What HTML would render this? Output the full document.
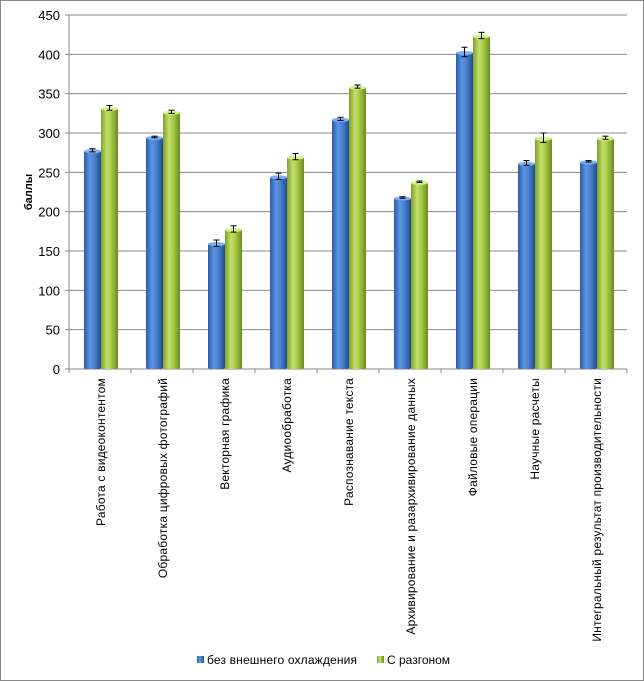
<!DOCTYPE html>
<html><head><meta charset="utf-8"><style>
body{margin:0;background:#fff}
svg{display:block;font-family:"Liberation Sans","DejaVu Sans",sans-serif}
</style></head><body>
<svg id="c" width="644" height="681">
<defs>
<linearGradient id="gb" x1="0" x2="1" y1="0" y2="0"><stop offset="0" stop-color="#2a5aa8"/><stop offset="0.35" stop-color="#5b95e0"/><stop offset="0.6" stop-color="#4a82d2"/><stop offset="1" stop-color="#234b8c"/></linearGradient>
<linearGradient id="gg" x1="0" x2="1" y1="0" y2="0"><stop offset="0" stop-color="#7fa02a"/><stop offset="0.35" stop-color="#c3e06a"/><stop offset="0.6" stop-color="#a8cc48"/><stop offset="1" stop-color="#6b8a20"/></linearGradient>
</defs>
<rect x="0.5" y="0.5" width="643" height="680" fill="#fff" stroke="#888"/>
<g id="grid"></g><g id="bars"></g><g id="labels"></g>
<text transform="translate(32,192) rotate(-90)" text-anchor="middle" font-size="11" font-weight="bold">баллы</text>
<g>
<g><rect x="197" y="656" width="7" height="7" fill="url(#gb)"/><text x="207" y="664" font-size="12" textLength="150">без внешнего  охлаждения</text></g>
<g><rect x="377" y="656" width="7" height="7" fill="url(#gg)"/><text x="387" y="664" font-size="12">С разгоном</text></g>
</g>
</svg>
<script>
const categories=["Работа с видеоконтентом","Обработка цифровых фотографий","Векторная графика","Аудиообработка","Распознавание текста","Архивирование и разархивирование данных","Файловые операции","Научные расчеты","Интегральный результат производительности"];
const seriesBase=[278,295,160,245,318,218,403,262,264];
const seriesOC=[332,327,178,270,359,238,424,294,294];
const errBase=[2,1,4,4,2,1,6,3,1];
const errOC=[3,2,4,4,2,1,4,6,2];
const yTicks=[0,50,100,150,200,250,300,350,400,450];
const NS="http://www.w3.org/2000/svg";
const X0=69,X1=627,Y0=369,Y1=15,MAX=450;
const y=v=>Y0-(v/MAX)*(Y0-Y1);
const cw=(X1-X0)/categories.length;
const cx=i=>X0+cw*(i+0.5);
function mk(t,a,p){const e=document.createElementNS(NS,t);for(const k in a)e.setAttribute(k,a[k]);p.appendChild(e);return e;}
const G=document.getElementById('grid'),B=document.getElementById('bars'),L=document.getElementById('labels');
yTicks.forEach(v=>{
 const l=mk('line',{x1:X0-4,x2:X1,y1:y(v),y2:y(v),stroke:'#888','stroke-width':1},G);
 
 
 const t=mk('text',{x:X0-9,y:y(v)+5,'text-anchor':'end','font-size':13,fill:'#000'},G);
 t.textContent=v;
 
 
});
mk('line',{x1:X0,x2:X0,y1:Y1,y2:Y0,stroke:'#888'},G);
for(let i=0;i<=categories.length;i++){mk('line',{x1:X0+cw*i,x2:X0+cw*i,y1:Y0,y2:Y0+4,stroke:'#888'},G);}
function bar(x,v,e,fill,cap,name){
 const r=mk('rect',{x:x,y:y(v),width:17,height:Y0-y(v),fill:fill,rx:2},B);
 
 
 mk('ellipse',{cx:x+8.5,cy:y(v)+1,rx:8.5,ry:2,fill:cap},B);
 const m=x+8.5;
 mk('line',{x1:m,x2:m,y1:y(v+e),y2:y(v-e),stroke:'#000'},B);
 mk('line',{x1:m-3,x2:m+3,y1:y(v+e),y2:y(v+e),stroke:'#000'},B);
 mk('line',{x1:m-3,x2:m+3,y1:y(v-e),y2:y(v-e),stroke:'#000'},B);
}
categories.forEach((c,i)=>{
 const m=cx(i)+1;
 bar(m-17,seriesBase[i],errBase[i],'url(#gb)','#7fb0f0','bar-base');
 bar(m,seriesOC[i],errOC[i],'url(#gg)','#d8f090','bar-overclock');
 const t=mk('text',{transform:`translate(${m+4},378) rotate(-90)`,'text-anchor':'end','font-size':12,'letter-spacing':'0.2'},L);
 t.textContent=c;
 
 
});
</script>
</body></html>
